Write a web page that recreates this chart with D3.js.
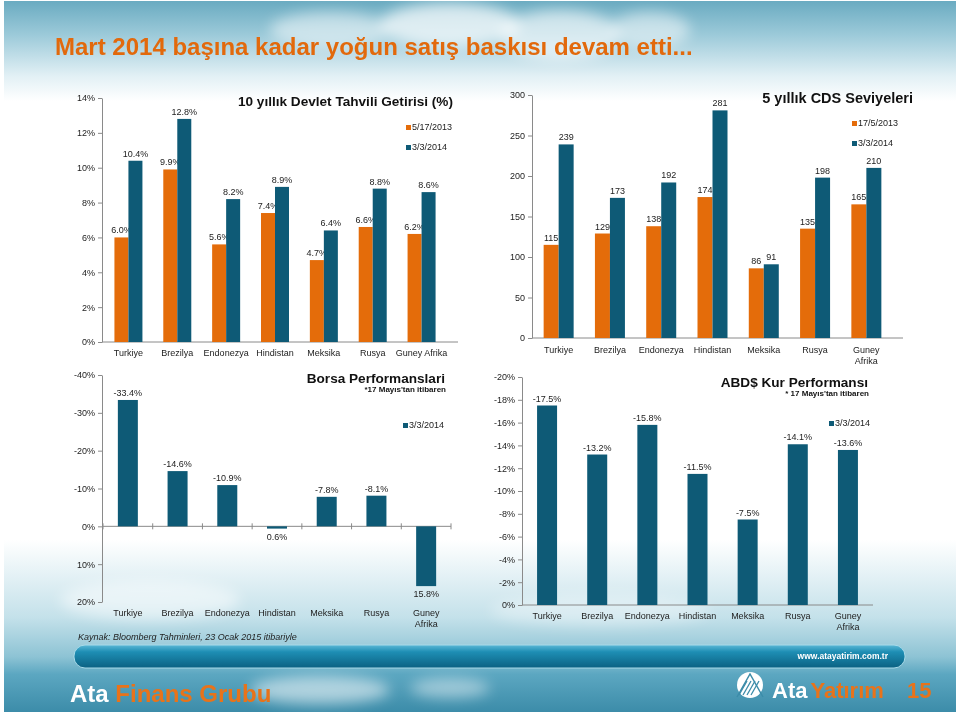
<!DOCTYPE html>
<html>
<head>
<meta charset="utf-8">
<script src="https://cdn.jsdelivr.net/npm/d3@7"></script>
<style>
  body { margin: 0; background: #fff; }
  svg { display: block; }
  text { font-family: "Liberation Sans", Arial, sans-serif; }
</style>
</head>
<body>
<script>
// ---- data ----
const countries = ["Turkiye", "Brezilya", "Endonezya", "Hindistan", "Meksika", "Rusya", "Guney Afrika"];

const bond2013 = [6.0, 9.9, 5.6, 7.4, 4.7, 6.6, 6.2];
const bond2014 = [10.4, 12.8, 8.2, 8.9, 6.4, 8.8, 8.6];
const bondTicks = [0, 2, 4, 6, 8, 10, 12, 14];

const cds2013 = [115, 129, 138, 174, 86, 135, 165];
const cds2014 = [239, 173, 192, 281, 91, 198, 210];
const cdsTicks = [0, 50, 100, 150, 200, 250, 300];

const borsa2014 = [-33.4, -14.6, -10.9, 0.6, -7.8, -8.1, 15.8];
const borsaTicks = [-40, -30, -20, -10, 0, 10, 20];

const kur2014 = [-17.5, -13.2, -15.8, -11.5, -7.5, -14.1, -13.6];
const kurTicks = [-20, -18, -16, -14, -12, -10, -8, -6, -4, -2, 0];

const W = 960, H = 716;
const orange = "#E46C0A", blue = "#0E5A76";
const font = "'Liberation Sans', Arial, sans-serif";

const svg = d3.select("body").append("svg")
  .attr("width", W)
  .attr("height", H);

const defs = svg.append("defs");

function vGrad(id, stops) {
  const g = defs.append("linearGradient").attr("id", id)
    .attr("x1", 0).attr("y1", 0).attr("x2", 0).attr("y2", 1);
  stops.forEach(s => g.append("stop").attr("offset", s[0]).attr("stop-color", s[1]));
}
vGrad("head", [[0, "#6AABC1"], [0.35, "#9ECBDA"], [0.75, "#E2F0F5"], [1, "#FFFFFF"]]);
vGrad("foot", [[0, "#FFFFFF"], [0.45, "#C4E1EA"], [0.68, "#8DC3D4"], [0.78, "#5CA7C1"], [1, "#3C8CA9"]]);
vGrad("bar", [[0, "#5BB8D6"], [0.3, "#1E8EB4"], [1, "#0B6182"]]);

defs.append("filter").attr("id", "blur")
  .attr("x", "-50%").attr("y", "-50%").attr("width", "200%").attr("height", "200%")
  .append("feGaussianBlur").attr("stdDeviation", 7);

// ---- slide background ----
svg.append("rect").attr("x", 4).attr("y", 1).attr("width", 952).attr("height", 711).attr("fill", "#fff");
svg.append("rect").attr("x", 4).attr("y", 1).attr("width", 952).attr("height", 100).attr("fill", "url(#head)");
svg.append("rect").attr("x", 4).attr("y", 540).attr("width", 952).attr("height", 172).attr("fill", "url(#foot)");

// soft clouds
const clouds = svg.append("g").attr("filter", "url(#blur)").attr("fill", "#fff");
[[330, 30, 60, 18, 0.5], [450, 25, 70, 22, 0.7], [560, 35, 60, 25, 0.6], [650, 30, 40, 18, 0.5],
 [320, 690, 70, 14, 0.55], [450, 688, 40, 10, 0.45], [150, 600, 90, 20, 0.5], [600, 610, 110, 16, 0.35]]
  .forEach(c => clouds.append("ellipse")
    .attr("cx", c[0]).attr("cy", c[1]).attr("rx", c[2]).attr("ry", c[3]).attr("opacity", c[4]));

// ---- main title ----
svg.append("text")
  .attr("x", 55).attr("y", 55)
  .attr("font-size", 24).attr("font-weight", "bold")
  .attr("fill", "#E2690C")
  .text("Mart 2014 başına kadar yoğun satış baskısı devam etti...");

// ---- helpers ----
function drawYAxis(scale, x, ticks, fmt) {
  const g = svg.append("g")
    .attr("transform", `translate(${x},0)`)
    .call(d3.axisLeft(scale).tickValues(ticks).tickFormat(fmt)
      .tickSize(4).tickSizeOuter(0).tickPadding(3));
  g.attr("font-family", font).attr("font-size", 9);
  g.select(".domain").attr("stroke", "#8a8a8a");
  g.selectAll(".tick line").attr("stroke", "#8a8a8a");
  g.selectAll(".tick text").attr("fill", "#222");
  return g;
}

function drawXLabels(band, y, wrap) {
  countries.forEach(c => {
    const t = svg.append("text")
      .attr("x", band(c) + band.bandwidth() / 2).attr("y", y)
      .attr("text-anchor", "middle")
      .attr("font-size", 9).attr("fill", "#222");
    if (wrap && c.includes(" ")) {
      c.split(" ").forEach((w, i) => t.append("tspan")
        .attr("x", band(c) + band.bandwidth() / 2).attr("dy", i ? 11 : 0).text(w));
    } else {
      t.text(c);
    }
  });
}

function drawTitle(x, y, title, sub, size) {
  svg.append("text").attr("x", x).attr("y", y)
    .attr("text-anchor", "end").attr("font-size", size || 14).attr("font-weight", "bold")
    .attr("fill", "#111").text(title);
  if (sub) {
    svg.append("text").attr("x", x + 1).attr("y", y + 9)
      .attr("text-anchor", "end").attr("font-size", 8).attr("font-weight", "bold")
      .attr("fill", "#111").text(sub);
  }
}

function drawLegend(x, y, color, label) {
  svg.append("rect").attr("x", x).attr("y", y - 5).attr("width", 5).attr("height", 5).attr("fill", color);
  svg.append("text").attr("x", x + 6).attr("y", y).attr("font-size", 9).attr("fill", "#222").text(label);
}

function drawPairBars(band, y, values, color, side, bw, fmt) {
  values.forEach((v, i) => {
    const cx = band(countries[i]) + band.bandwidth() / 2;
    const bx = side < 0 ? cx - bw : cx;
    svg.append("rect")
      .attr("x", bx).attr("y", y(v))
      .attr("width", bw).attr("height", y(0) - y(v))
      .attr("fill", color);
    svg.append("text")
      .attr("x", bx + bw / 2).attr("y", y(v) - 4)
      .attr("text-anchor", "middle").attr("font-size", 9).attr("fill", "#222")
      .text(fmt(v));
  });
}

const pct1 = v => v.toFixed(1) + "%";

// ---- chart A: 10 yillik tahvil ----
const yA = d3.scaleLinear().domain([0, 14]).range([342, 98]);
const xA = d3.scaleBand().domain(countries).range([104, 446]);
drawYAxis(yA, 102, bondTicks, d => d + "%");
svg.append("line").attr("x1", 102).attr("x2", 458).attr("y1", yA(0)).attr("y2", yA(0)).attr("stroke", "#8a8a8a");
drawPairBars(xA, yA, bond2013, orange, -1, 14, pct1);
drawPairBars(xA, yA, bond2014, blue, 1, 14, pct1);
drawXLabels(xA, 356, false);
drawTitle(453, 106, "10 yıllık Devlet Tahvili Getirisi (%)", null, 13.6);
drawLegend(406, 130, orange, "5/17/2013");
drawLegend(406, 150, blue, "3/3/2014");

// ---- chart B: CDS ----
const yB = d3.scaleLinear().domain([0, 300]).range([338, 95]);
const xB = d3.scaleBand().domain(countries).range([533, 892]);
drawYAxis(yB, 532, cdsTicks, d => d);
svg.append("line").attr("x1", 532).attr("x2", 903).attr("y1", yB(0)).attr("y2", yB(0)).attr("stroke", "#8a8a8a");
drawPairBars(xB, yB, cds2013, orange, -1, 15, d => d);
drawPairBars(xB, yB, cds2014, blue, 1, 15, d => d);
drawXLabels(xB, 353, true);
drawTitle(913, 103, "5 yıllık CDS Seviyeleri", null, 14.5);
drawLegend(852, 126, orange, "17/5/2013");
drawLegend(852, 146, blue, "3/3/2014");

// ---- chart C: Borsa ----
const yC = d3.scaleLinear().domain([-40, 20]).range([375, 602]);
const xC = d3.scaleBand().domain(countries).range([103, 451]);
drawYAxis(yC, 102, borsaTicks, d => d + "%");
svg.append("line").attr("x1", 102).attr("x2", 451).attr("y1", yC(0)).attr("y2", yC(0)).attr("stroke", "#8a8a8a");
svg.selectAll(".ctick").data(d3.range(countries.length + 1)).enter().append("line")
  .attr("x1", i => 103 + i * xC.step()).attr("x2", i => 103 + i * xC.step())
  .attr("y1", yC(0) - 3).attr("y2", yC(0) + 3).attr("stroke", "#8a8a8a");
borsa2014.forEach((v, i) => {
  const cx = xC(countries[i]) + xC.bandwidth() / 2;
  svg.append("rect")
    .attr("x", cx - 10).attr("y", Math.min(yC(v), yC(0)))
    .attr("width", 20).attr("height", Math.abs(yC(v) - yC(0)))
    .attr("fill", blue);
  svg.append("text")
    .attr("x", cx).attr("y", v < 0 ? yC(v) - 4 : yC(v) + 11)
    .attr("text-anchor", "middle").attr("font-size", 9).attr("fill", "#222")
    .text(pct1(v));
});
drawXLabels(xC, 616, true);
drawTitle(445, 383, "Borsa Performanslari", "*17 Mayıs'tan itibaren", 13.6);
drawLegend(403, 428, blue, "3/3/2014");
svg.append("text").attr("x", 78).attr("y", 640)
  .attr("font-size", 9).attr("font-style", "italic").attr("fill", "#222")
  .text("Kaynak: Bloomberg Tahminleri, 23 Ocak 2015 itibariyle");

// ---- chart D: ABD$ kur ----
const yD = d3.scaleLinear().domain([-20, 0]).range([377, 605]);
const xD = d3.scaleBand().domain(countries).range([522, 873]);
drawYAxis(yD, 522, kurTicks, d => d + "%");
svg.append("line").attr("x1", 522).attr("x2", 873).attr("y1", yD(0)).attr("y2", yD(0)).attr("stroke", "#8a8a8a");
kur2014.forEach((v, i) => {
  const cx = xD(countries[i]) + xD.bandwidth() / 2;
  svg.append("rect")
    .attr("x", cx - 10).attr("y", yD(v))
    .attr("width", 20).attr("height", yD(0) - yD(v))
    .attr("fill", blue);
  svg.append("text")
    .attr("x", cx).attr("y", yD(v) - 4)
    .attr("text-anchor", "middle").attr("font-size", 9).attr("fill", "#222")
    .text(pct1(v));
});
drawXLabels(xD, 619, true);
drawTitle(868, 387, "ABD$ Kur Performansı", "* 17 Mayıs'tan itibaren", 13.6);
drawLegend(829, 426, blue, "3/3/2014");

// ---- footer ----
svg.append("rect").attr("x", 74).attr("y", 645).attr("width", 831).attr("height", 23)
  .attr("rx", 11).attr("fill", "url(#bar)").attr("stroke", "#A8DAE8").attr("stroke-width", 1);
svg.append("text").attr("x", 888).attr("y", 659).attr("text-anchor", "end")
  .attr("font-size", 8.5).attr("font-weight", "bold").attr("fill", "#fff")
  .text("www.atayatirim.com.tr");

const left = svg.append("text").attr("x", 70).attr("y", 702)
  .attr("font-size", 24).attr("font-weight", "bold");
left.append("tspan").attr("fill", "#fff").text("Ata ");
left.append("tspan").attr("fill", "#E8731A").text("Finans Grubu");

// logo
const logo = svg.append("g").attr("transform", "translate(750,685)");
logo.append("circle").attr("r", 13).attr("fill", "#fff");
[-6, -2, 2, 6].forEach(d => logo.append("line")
  .attr("x1", d - 5).attr("y1", 10).attr("x2", d + 3).attr("y2", -4)
  .attr("stroke", "#3C8CA9").attr("stroke-width", 1.3));
logo.append("path").attr("d", "M-13,12 L0,-11 L13,12").attr("fill", "none").attr("stroke", "#3C8CA9").attr("stroke-width", 1.5);

const right = svg.append("text").attr("x", 772).attr("y", 698)
  .attr("font-size", 22).attr("font-weight", "bold");
right.append("tspan").attr("fill", "#fff").text("Ata");
right.append("tspan").attr("fill", "#E8731A").attr("dx", 3).text("Yatırım");
svg.append("text").attr("x", 907).attr("y", 698)
  .attr("font-size", 22).attr("font-weight", "bold").attr("fill", "#E8731A").text("15");
</script>
</body>
</html>
